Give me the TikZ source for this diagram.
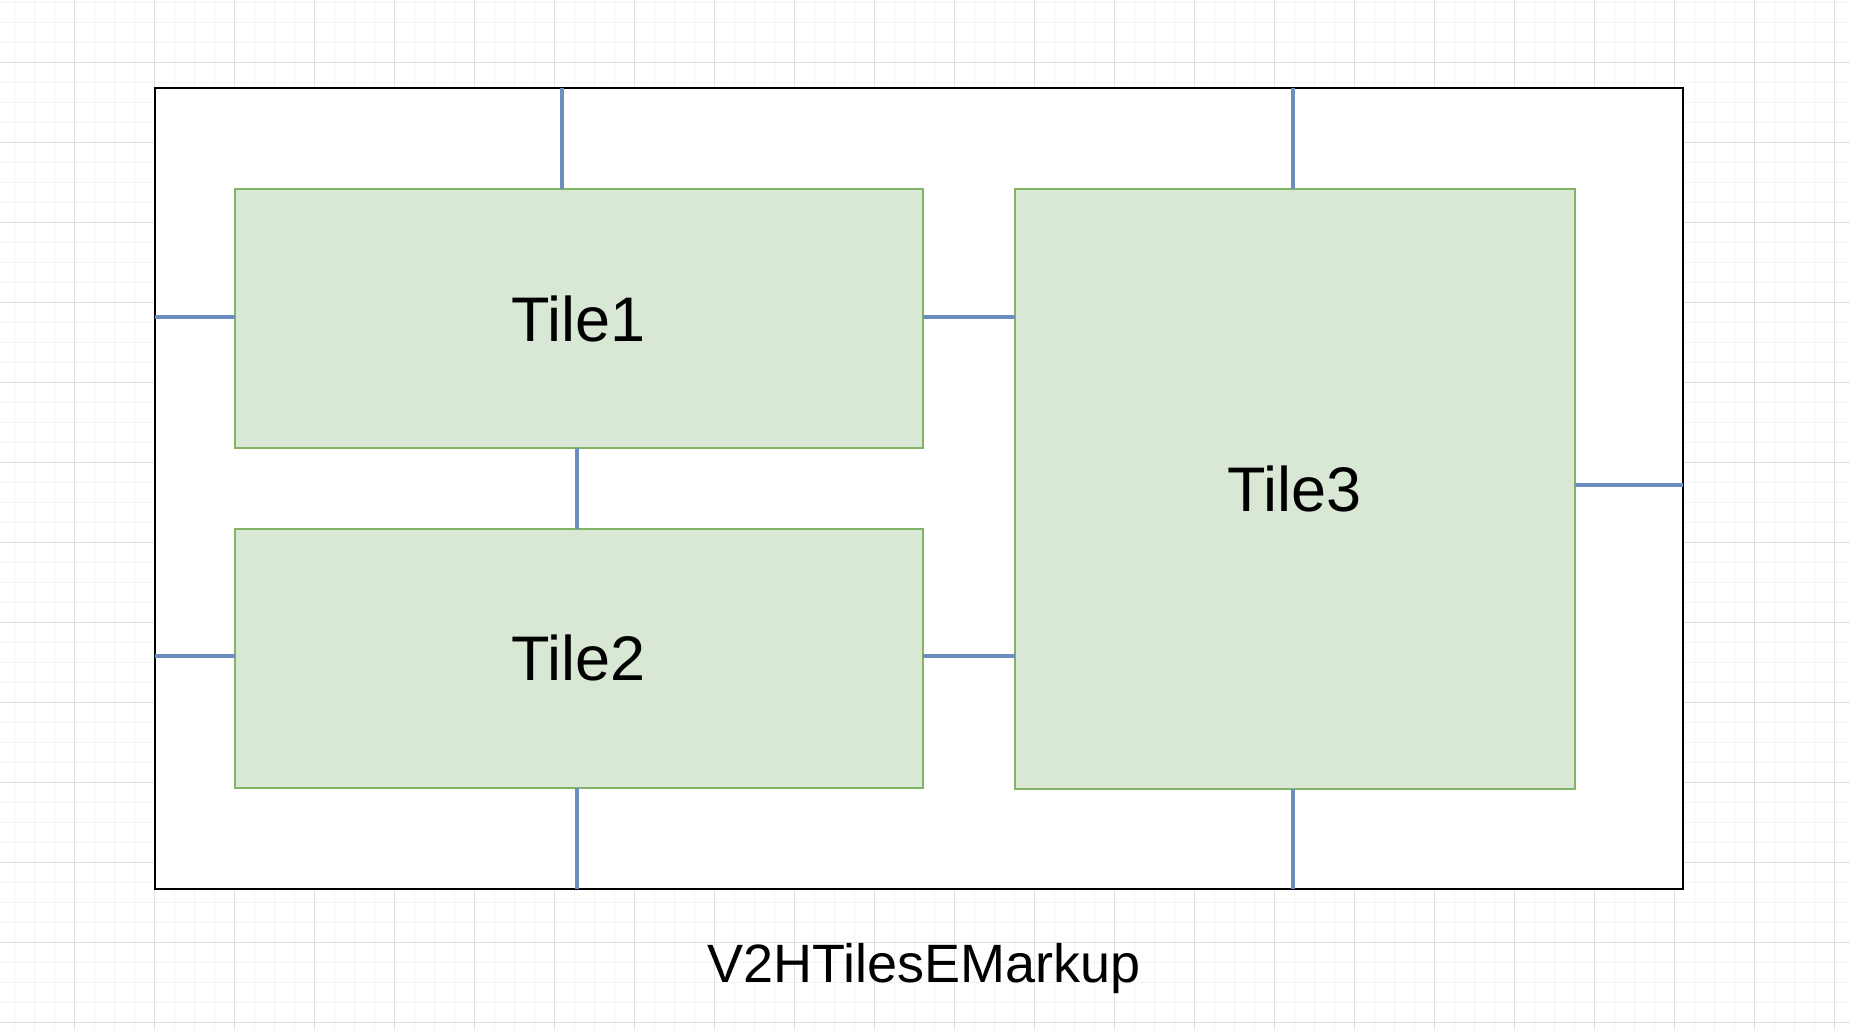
\documentclass[tikz,border=0pt]{standalone}
\usepackage{fontspec}
\setmainfont{Liberation Sans}
\definecolor{gridminor}{HTML}{F4F4F4}
\definecolor{gridmajor}{HTML}{E0E0E0}
\definecolor{tilefill}{HTML}{D9E7D5}
\definecolor{tileline}{HTML}{82B366}
\definecolor{linkblue}{HTML}{6C8EBF}
\begin{document}
\begin{tikzpicture}[x=1pt,y=-1pt,
  tilebox/.style={draw=tileline,fill=tilefill,line width=2pt,inner sep=0pt,outer sep=0pt,
    font=\fontsize{63}{76}\selectfont},
  framebox/.style={draw=black,fill=white,line width=2pt,inner sep=0pt,outer sep=0pt},
  link/.style={draw=linkblue,line width=3.8pt}]
\useasboundingbox (0,0) rectangle (1850,1030);
\fill[white] (0,0) rectangle (1850,1030);
% grid
\foreach \gx in {14.6,34.6,...,1850} {\draw[gridminor,line width=1pt] (\gx,0) -- (\gx,1030);}
\foreach \gy in {2.3,22.3,...,1030} {\draw[gridminor,line width=1pt] (0,\gy) -- (1850,\gy);}
\foreach \gx in {-5.4,74.6,...,1850} {\draw[gridmajor,line width=1pt] (\gx,0) -- (\gx,1030);}
\foreach \gy in {62.3,142.3,...,1030} {\draw[gridmajor,line width=1pt] (0,\gy) -- (1850,\gy);}
% frame
\node[framebox,minimum width=1527.8pt,minimum height=800.4pt] (frame) at (918.9,488.5) {};
% tiles
\node[tilebox,minimum width=688pt,minimum height=259.6pt] (tile1) at (578.6,318.5) {Tile1};
\node[tilebox,minimum width=688pt,minimum height=259.5pt] (tile2) at (578.6,658.3) {Tile2};
\node[tilebox,minimum width=560.4pt,minimum height=600.3pt] (tile3) at (1294.8,488.9) {Tile3};
% connector anchor points
\coordinate (t1n) at ([xshift=-17pt]tile1.north);
\coordinate (t3n) at ([xshift=-2pt]tile3.north);
\coordinate (t1w) at ([yshift=1.8pt]tile1.west);
\coordinate (t1e) at ([yshift=1.8pt]tile1.east);
\coordinate (t1s) at ([xshift=-1.6pt]tile1.south);
\coordinate (t2n) at ([xshift=-1.6pt]tile2.north);
\coordinate (t2w) at ([yshift=2pt]tile2.west);
\coordinate (t2e) at ([yshift=2pt]tile2.east);
\coordinate (t2s) at ([xshift=-1.6pt]tile2.south);
\coordinate (t3e) at ([yshift=4pt]tile3.east);
\coordinate (t3s) at ([xshift=-2pt]tile3.south);
% connectors
\draw[link] (t1n) -- (frame.north -| t1n);
\draw[link] (t3n) -- (frame.north -| t3n);
\draw[link] (t1w) -- (frame.west |- t1w);
\draw[link] (t1e) -- (tile3.west |- t1e);
\draw[link] (t1s) -- (t2n);
\draw[link] (t2w) -- (frame.west |- t2w);
\draw[link] (t2e) -- (tile3.west |- t2e);
\draw[link] (t2s) -- (frame.south -| t2s);
\draw[link] (t3e) -- (frame.east |- t3e);
\draw[link] (t3s) -- (frame.south -| t3s);
% caption
\node[font=\fontsize{54}{65}\selectfont,inner sep=0pt] (caption) at (924,969) {V2HTilesEMarkup};
\end{tikzpicture}
\end{document}
